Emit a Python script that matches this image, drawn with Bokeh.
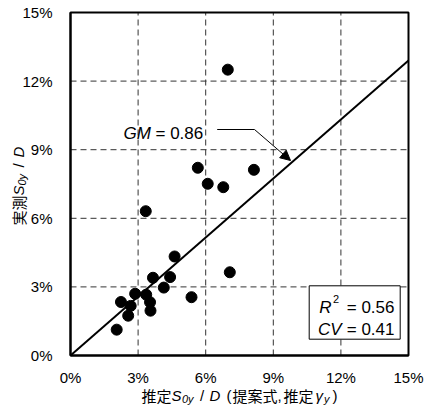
import math
from bokeh.plotting import figure
from bokeh.models import (Label, BoxAnnotation, Arrow, NormalHead, FixedTicker,
                          PrintfTickFormatter, Range1d)
from bokeh.embed import file_html
from bokeh.resources import INLINE

# ---- data (percent) ----
pred = [6.98, 5.65, 6.09, 6.78, 8.14, 7.07, 5.37, 3.34, 4.62, 3.66,
        4.42, 4.14, 2.87, 3.36, 3.53, 3.55, 2.24, 2.67, 2.56, 2.05]
meas = [12.50, 8.21, 7.51, 7.36, 8.12, 3.64, 2.55, 6.31, 4.33, 3.40,
        3.43, 2.97, 2.70, 2.66, 2.33, 1.96, 2.34, 2.17, 1.74, 1.13]
gm = 0.86
r2 = 0.56
cv = 0.41
ticks = [0, 3, 6, 9, 12, 15]
grid_ticks = [3, 6, 9, 12]
lo, hi = 0, 15

LAT = "Liberation Sans"
CJK = "Noto Sans CJK JP"

W, H = 432, 412
# pixel box of the 0..15 plotting square
PX0, PX1, PY0, PY1 = 70, 408, 355, 12
SX = (PX1 - PX0) / (hi - lo)
SY = (PY0 - PY1) / (hi - lo)

def dx(cx):
    return lo + (cx - PX0) / SX

def dy(cy):
    return lo + (PY0 - cy) / SY

p = figure(width=W, height=H, output_backend="svg", toolbar_location=None,
           x_range=Range1d(dx(0), dx(W)), y_range=Range1d(dy(H), dy(0)),
           min_border=0, min_border_left=0, min_border_right=0,
           min_border_top=0, min_border_bottom=0)
p.background_fill_color = "white"
p.border_fill_color = "white"
p.outline_line_color = None
p.xgrid.visible = False
p.ygrid.visible = False

for ax in (p.xaxis[0], p.yaxis[0]):
    ax.fixed_location = lo
    ax.bounds = (lo, hi)
    ax.ticker = FixedTicker(ticks=ticks)
    ax.formatter = PrintfTickFormatter(format="%d%%")
    ax.major_tick_line_color = None
    ax.minor_tick_line_color = None
    ax.axis_line_color = "black"
    ax.axis_line_width = 2
    ax.major_label_text_font = LAT
    ax.major_label_text_font_size = "15px"
    ax.major_label_text_color = "black"
p.xaxis.major_label_standoff = 7
p.yaxis.major_label_standoff = 12

# dashed grid lines at the inner ticks
n = len(grid_ticks)
p.segment(x0=grid_ticks, y0=[lo] * n, x1=grid_ticks, y1=[hi] * n,
          line_color="#333333", line_width=1, line_dash="6 4")
p.segment(x0=[lo] * n, y0=grid_ticks, x1=[hi] * n, y1=grid_ticks,
          line_color="#333333", line_width=1, line_dash="6 4")

# regression line y = gm * x
p.line([lo, hi], [lo, hi * gm], line_color="black", line_width=2)

# points
p.scatter(pred, meas, size=11, marker="circle", fill_color="black", line_color="black")

# plot box
p.quad(left=[lo], right=[hi], bottom=[lo], top=[hi], fill_color=None,
       line_color="black", line_width=2)

def lab(cx, cy, text, font=LAT, size="15px", style="normal", align="left", angle=0.0):
    p.add_layout(Label(x=dx(cx), y=dy(cy), text=text, text_font=font,
                       text_font_size=size, text_font_style=style,
                       text_align=align, text_baseline="alphabetic",
                       text_color="black", angle=angle))

# GM annotation
p.line([dx(216.7), dx(254)], [dy(129), dy(129)], line_color="black", line_width=1)
p.add_layout(Arrow(end=NormalHead(size=10, fill_color="black", line_color="black"),
                   x_start=dx(254), y_start=dy(129), x_end=dx(290), y_end=dy(160),
                   line_color="black", line_width=1))
lab(123, 133, "GM", size="17px", style="italic")
lab(155, 133, " = %.2f" % gm, size="17px")

# R2 / CV box
p.add_layout(BoxAnnotation(left=dx(308.7), right=dx(399.7), top=dy(285.3), bottom=dy(338.7),
                           fill_color="white", fill_alpha=1.0, line_color="black",
                           line_width=1, line_alpha=1.0))
lab(331, 306.5, "R", size="17px", style="italic", align="right")
lab(332.5, 298, "2", size="11px")
lab(394, 306.5, "= %.2f" % r2, size="17px", align="right")
lab(341, 329, "CV", size="17px", style="italic", align="right")
lab(394, 329, "= %.2f" % cv, size="17px", align="right")

# x-axis title pieces
by = 395
lab(141, by, "推定", font=CJK, size="15px")
lab(171, by, "S", size="15px", style="italic")
lab(181.5, by + 3, "0y", size="11px", style="italic")
lab(199.5, by, "/", size="15px")
lab(209, by, "D", size="15px", style="italic")
lab(226, by, "(", size="15px")
lab(232, by, "提案式", font=CJK, size="15px")
lab(277, by, ",", size="15px")
lab(283, by, "推定", font=CJK, size="15px")
lab(315, by, "γ", size="15px", style="italic")
lab(323.5, by + 3, "y", size="11px", style="italic")
lab(332, by, ")", size="15px")

# y-axis title pieces (rotated, reading upward)
a = math.pi / 2
bx = 18
lab(bx, 225, "実測", font=CJK, size="15px", angle=a)
lab(bx, 195, "S", size="15px", style="italic", angle=a)
lab(bx + 3, 185, "0y", size="11px", style="italic", angle=a)
lab(bx, 167, "/", size="15px", angle=a)
lab(bx, 157, "D", size="15px", style="italic", angle=a)

open("out.html", "w").write(file_html(p, INLINE))
